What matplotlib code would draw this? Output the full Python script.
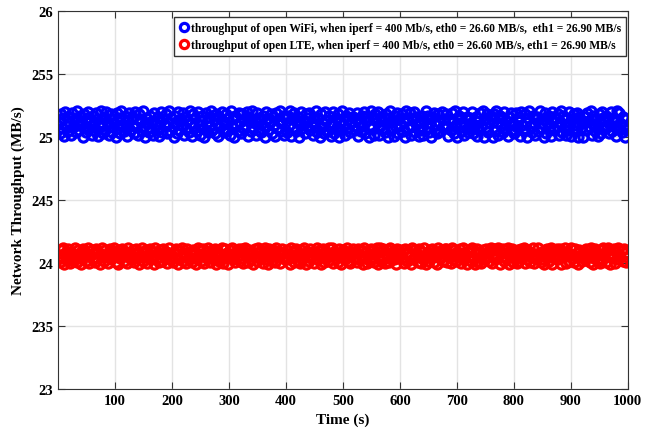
import numpy as np
import matplotlib
matplotlib.use("Agg")
import matplotlib.pyplot as plt

# Data (one point every 2 s)
time = np.arange(1, 1001, 2)

wifi = [
    25.12, 25.03, 25.18, 25.07, 25.15, 25.01, 25.20, 25.09, 25.05, 25.16, 25.11, 25.02, 25.19, 25.08, 25.14, 25.04, 25.21, 25.10, 25.06, 25.17,
    25.13, 25.00, 25.18, 25.09, 25.04, 25.15, 25.20, 25.07, 25.12, 25.02, 25.17, 25.10, 25.05, 25.19, 25.14, 25.01, 25.08, 25.21, 25.11, 25.03,
    25.16, 25.06, 25.20, 25.12, 25.02, 25.09, 25.18, 25.04, 25.14, 25.11, 25.00, 25.19, 25.07, 25.15, 25.03, 25.21, 25.10, 25.05, 25.17, 25.08,
    25.01, 25.13, 25.19, 25.06, 25.16, 25.10, 25.03, 25.20, 25.08, 25.14, 25.02, 25.18, 25.12, 25.05, 25.21, 25.09, 25.00, 25.15, 25.11, 25.04,
    25.17, 25.07, 25.13, 25.02, 25.19, 25.10, 25.06, 25.16, 25.01, 25.12, 25.20, 25.04, 25.14, 25.09, 25.18, 25.03, 25.11, 25.21, 25.05, 25.15,
    25.08, 25.00, 25.17, 25.12, 25.03, 25.20, 25.06, 25.14, 25.10, 25.19, 25.02, 25.16, 25.07, 25.13, 25.04, 25.21, 25.11, 25.01, 25.18, 25.09,
    25.15, 25.05, 25.20, 25.10, 25.02, 25.13, 25.17, 25.07, 25.00, 25.19, 25.12, 25.04, 25.16, 25.09, 25.21, 25.06, 25.14, 25.03, 25.18, 25.11,
    25.01, 25.16, 25.08, 25.20, 25.13, 25.04, 25.11, 25.18, 25.06, 25.15, 25.02, 25.21, 25.09, 25.14, 25.00, 25.17, 25.10, 25.05, 25.19, 25.12,
    25.03, 25.18, 25.07, 25.14, 25.10, 25.20, 25.01, 25.16, 25.12, 25.05, 25.21, 25.08, 25.13, 25.02, 25.19, 25.11, 25.06, 25.15, 25.04, 25.17,
    25.09, 25.00, 25.20, 25.14, 25.06, 25.12, 25.18, 25.03, 25.16, 25.10, 25.01, 25.19, 25.07, 25.13, 25.21, 25.05, 25.11, 25.17, 25.02, 25.15,
    25.04, 25.17, 25.10, 25.21, 25.01, 25.14, 25.08, 25.19, 25.05, 25.12, 25.16, 25.00, 25.11, 25.20, 25.07, 25.13, 25.03, 25.18, 25.09, 25.15,
    25.19, 25.06, 25.12, 25.02, 25.16, 25.09, 25.21, 25.04, 25.14, 25.00, 25.18, 25.08, 25.11, 25.03, 25.20, 25.13, 25.05, 25.17, 25.10, 25.01,
    25.11, 25.20, 25.03, 25.15, 25.08, 25.18, 25.00, 25.13, 25.06, 25.21, 25.10, 25.02, 25.17, 25.07, 25.14, 25.19, 25.04, 25.12, 25.16, 25.09,
    25.06, 25.14, 25.19, 25.01, 25.11, 25.05, 25.17, 25.09, 25.20, 25.03, 25.13, 25.16, 25.00, 25.10, 25.21, 25.07, 25.15, 25.02, 25.18, 25.12,
    25.20, 25.02, 25.09, 25.16, 25.13, 25.07, 25.04, 25.18, 25.11, 25.00, 25.15, 25.21, 25.06, 25.12, 25.01, 25.17, 25.08, 25.19, 25.03, 25.14,
    25.10, 25.18, 25.05, 25.12, 25.00, 25.21, 25.15, 25.07, 25.19, 25.02, 25.09, 25.14, 25.20, 25.04, 25.16, 25.11, 25.01, 25.13, 25.06, 25.17,
    25.02, 25.13, 25.21, 25.08, 25.17, 25.04, 25.11, 25.00, 25.16, 25.19, 25.06, 25.10, 25.03, 25.18, 25.12, 25.05, 25.20, 25.09, 25.14, 25.07,
    25.18, 25.09, 25.01, 25.14, 25.06, 25.19, 25.12, 25.03, 25.21, 25.08, 25.00, 25.17, 25.11, 25.15, 25.05, 25.20, 25.02, 25.10, 25.16, 25.04,
    25.07, 25.15, 25.11, 25.20, 25.03, 25.10, 25.16, 25.01, 25.13, 25.06, 25.19, 25.09, 25.21, 25.00, 25.14, 25.08, 25.18, 25.04, 25.12, 25.17,
    25.14, 25.00, 25.18, 25.05, 25.21, 25.12, 25.02, 25.17, 25.09, 25.15, 25.04, 25.20, 25.07, 25.13, 25.01, 25.16, 25.10, 25.19, 25.06, 25.11,
    25.03, 25.19, 25.08, 25.13, 25.16, 25.01, 25.20, 25.10, 25.05, 25.18, 25.12, 25.00, 25.15, 25.21, 25.09, 25.04, 25.17, 25.11, 25.02, 25.14,
    25.16, 25.05, 25.21, 25.11, 25.07, 25.14, 25.00, 25.19, 25.03, 25.12, 25.17, 25.08, 25.01, 25.20, 25.13, 25.06, 25.15, 25.09, 25.18, 25.02,
    25.12, 25.21, 25.04, 25.17, 25.09, 25.02, 25.15, 25.06, 25.20, 25.11, 25.01, 25.14, 25.18, 25.05, 25.10, 25.19, 25.00, 25.16, 25.07, 25.13,
    25.00, 25.11, 25.16, 25.06, 25.19, 25.13, 25.08, 25.21, 25.02, 25.17, 25.10, 25.05, 25.14, 25.01, 25.18, 25.12, 25.03, 25.20, 25.15, 25.08,
    25.17, 25.08, 25.13, 25.03, 25.10, 25.20, 25.05, 25.15, 25.12, 25.01, 25.21, 25.07, 25.19, 25.11, 25.04, 25.16, 25.09, 25.00, 25.14, 25.06,
]

lte = [
    24.06, 24.01, 24.10, 24.04, 24.12, 23.99, 24.08, 24.03, 24.11, 24.05, 24.00, 24.09, 24.07, 24.02, 24.12, 24.06, 24.01, 24.10, 24.04, 24.08,
    23.99, 24.11, 24.05, 24.09, 24.02, 24.07, 24.12, 24.00, 24.06, 24.10, 24.03, 24.08, 24.01, 24.11, 24.04, 24.09, 23.99, 24.07, 24.12, 24.05,
    24.02, 24.10, 24.06, 24.00, 24.08, 24.11, 24.03, 24.09, 24.05, 24.12, 24.01, 24.07, 23.99, 24.10, 24.04, 24.08, 24.11, 24.02, 24.06, 24.09,
    24.00, 24.12, 24.05, 24.08, 24.03, 24.10, 24.01, 24.07, 24.11, 24.04, 24.09, 23.99, 24.06, 24.12, 24.02, 24.08, 24.05, 24.10, 24.00, 24.07,
    24.11, 24.03, 24.09, 24.06, 23.99, 24.12, 24.04, 24.08, 24.01, 24.10, 24.07, 24.02, 24.11, 24.05, 24.09, 24.00, 24.08, 24.12, 24.03, 24.06,
    24.01, 24.09, 24.04, 24.11, 24.07, 23.99, 24.10, 24.05, 24.12, 24.02, 24.08, 24.06, 24.00, 24.11, 24.03, 24.09, 24.07, 24.01, 24.10, 24.04,
    24.08, 23.99, 24.12, 24.05, 24.10, 24.02, 24.07, 24.11, 24.00, 24.09, 24.04, 24.12, 24.06, 24.01, 24.08, 24.10, 24.03, 24.11, 23.99, 24.05,
    24.09, 24.02, 24.07, 24.12, 24.00, 24.06, 24.11, 24.04, 24.08, 23.99, 24.10, 24.05, 24.12, 24.03, 24.07, 24.01, 24.09, 24.06, 24.11, 24.02,
    24.04, 24.11, 24.00, 24.08, 24.12, 24.05, 24.01, 24.10, 24.07, 24.03, 24.09, 23.99, 24.11, 24.06, 24.02, 24.12, 24.08, 24.04, 24.10, 24.00,
    24.07, 24.12, 24.03, 24.09, 23.99, 24.11, 24.06, 24.02, 24.10, 24.08, 24.01, 24.12, 24.05, 24.09, 24.00, 24.07, 24.11, 24.04, 24.08, 24.03,
    24.10, 24.03, 24.07, 23.99, 24.12, 24.05, 24.09, 24.01, 24.11, 24.06, 24.02, 24.08, 24.00, 24.10, 24.04, 24.12, 24.07, 23.99, 24.09, 24.05,
    24.02, 24.11, 24.06, 24.09, 24.00, 24.08, 24.04, 24.12, 24.03, 24.10, 23.99, 24.07, 24.11, 24.01, 24.05, 24.09, 24.02, 24.12, 24.06, 24.08,
    24.12, 24.00, 24.09, 24.04, 24.07, 24.01, 24.11, 24.05, 23.99, 24.08, 24.10, 24.03, 24.06, 24.12, 24.02, 24.09, 24.00, 24.07, 24.11, 24.04,
    24.05, 24.08, 24.01, 24.11, 24.03, 24.10, 24.06, 23.99, 24.12, 24.04, 24.09, 24.00, 24.07, 24.02, 24.11, 24.05, 24.10, 24.01, 24.08, 24.12,
    23.99, 24.09, 24.12, 24.02, 24.06, 24.11, 24.00, 24.08, 24.04, 24.10, 24.01, 24.12, 24.05, 24.09, 24.03, 24.07, 23.99, 24.11, 24.04, 24.10,
    24.08, 24.04, 24.10, 24.00, 24.11, 24.07, 24.02, 24.09, 24.06, 23.99, 24.12, 24.03, 24.10, 24.05, 24.08, 24.01, 24.11, 24.06, 24.00, 24.09,
    24.03, 24.12, 23.99, 24.07, 24.09, 24.02, 24.10, 24.04, 24.11, 24.01, 24.06, 24.09, 23.99, 24.12, 24.07, 24.04, 24.10, 24.02, 24.08, 24.11,
    24.11, 24.01, 24.08, 24.05, 24.00, 24.12, 24.03, 24.10, 24.07, 24.02, 24.09, 24.05, 24.11, 24.00, 24.08, 24.12, 24.03, 24.06, 23.99, 24.09,
    24.06, 24.10, 24.02, 24.12, 24.04, 23.99, 24.08, 24.11, 24.01, 24.09, 24.05, 24.00, 24.10, 24.07, 24.03, 24.11, 24.06, 24.09, 24.02, 24.12,
    24.00, 24.07, 24.11, 24.03, 24.10, 24.06, 24.12, 23.99, 24.09, 24.05, 24.11, 24.02, 24.08, 24.04, 24.12, 23.99, 24.09, 24.05, 24.11, 24.01,
    24.09, 24.05, 24.00, 24.10, 24.02, 24.08, 24.11, 24.04, 24.12, 24.00, 24.07, 24.10, 24.03, 24.09, 24.01, 24.06, 24.12, 24.00, 24.07, 24.04,
    24.04, 24.12, 24.07, 24.01, 24.09, 24.03, 23.99, 24.10, 24.05, 24.11, 24.02, 24.08, 24.12, 23.99, 24.10, 24.04, 24.07, 24.11, 24.03, 24.09,
    24.11, 23.99, 24.05, 24.08, 24.12, 24.00, 24.09, 24.06, 24.02, 24.07, 24.12, 24.04, 24.01, 24.11, 24.06, 24.08, 23.99, 24.10, 24.05, 24.02,
    24.07, 24.09, 24.03, 24.11, 24.05, 24.10, 24.01, 24.12, 24.08, 23.99, 24.04, 24.11, 24.09, 24.02, 24.07, 24.00, 24.10, 24.03, 24.12, 24.06,
    24.01, 24.10, 24.12, 24.06, 23.99, 24.08, 24.04, 24.11, 24.00, 24.09, 24.03, 24.12, 24.07, 24.05, 24.10, 24.02, 24.11, 24.08, 24.01, 24.05,
]

x_ticks = [100, 200, 300, 400, 500, 600, 700, 800, 900, 1000]
y_ticks = [23, 23.5, 24, 24.5, 25, 25.5, 26]
y_tick_labels = ["23", "235", "24", "245", "25", "255", "26"]

label_wifi = "throughput of open WiFi, when iperf = 400 Mb/s, eth0 = 26.60 MB/s,  eth1 = 26.90 MB/s"
label_lte = "throughput of open LTE, when iperf = 400 Mb/s, eth0 = 26.60 MB/s, eth1 = 26.90 MB/s"

plt.rcParams["font.family"] = ["Liberation Serif", "DejaVu Serif"]
plt.rcParams["font.weight"] = "bold"

fig = plt.figure(figsize=(6.54, 4.35), dpi=100)
ax = fig.add_axes([0.0887, 0.1034, 0.8713, 0.8686])

ax.plot(time, wifi, "o", mfc="none", mec="#0000ff", mew=2.3, ms=6.6, label=label_wifi)
ax.plot(time, lte, "o", mfc="none", mec="#ff0000", mew=2.3, ms=6.6, label=label_lte)

ax.set_xlim(0, 1000)
ax.set_ylim(23, 26)
ax.set_xticks(x_ticks)
ax.set_yticks(y_ticks)
ax.set_yticklabels(y_tick_labels)
ax.tick_params(direction="in", top=True, right=True, labelsize=10.5, color="#333333", length=5)
ax.grid(True, color="#e3e3e3", linewidth=1)
ax.set_axisbelow(True)
for s in ax.spines.values():
    s.set_color("#333333")

ax.set_xlabel("Time (s)", fontsize=11, fontweight="bold")
ax.set_ylabel("Network Throughput (MB/s)", fontsize=11, fontweight="bold")

leg = ax.legend(loc="upper right", bbox_to_anchor=(0.9965, 0.984), borderaxespad=0,
                fontsize=8.3, handletextpad=0.1, handlelength=1.0, markerscale=0.9,
                borderpad=0.4, labelspacing=0.45, fancybox=False, framealpha=1)
leg.get_frame().set_edgecolor("#333333")
leg.get_frame().set_linewidth(1)

fig.savefig("out.png", dpi=100)
